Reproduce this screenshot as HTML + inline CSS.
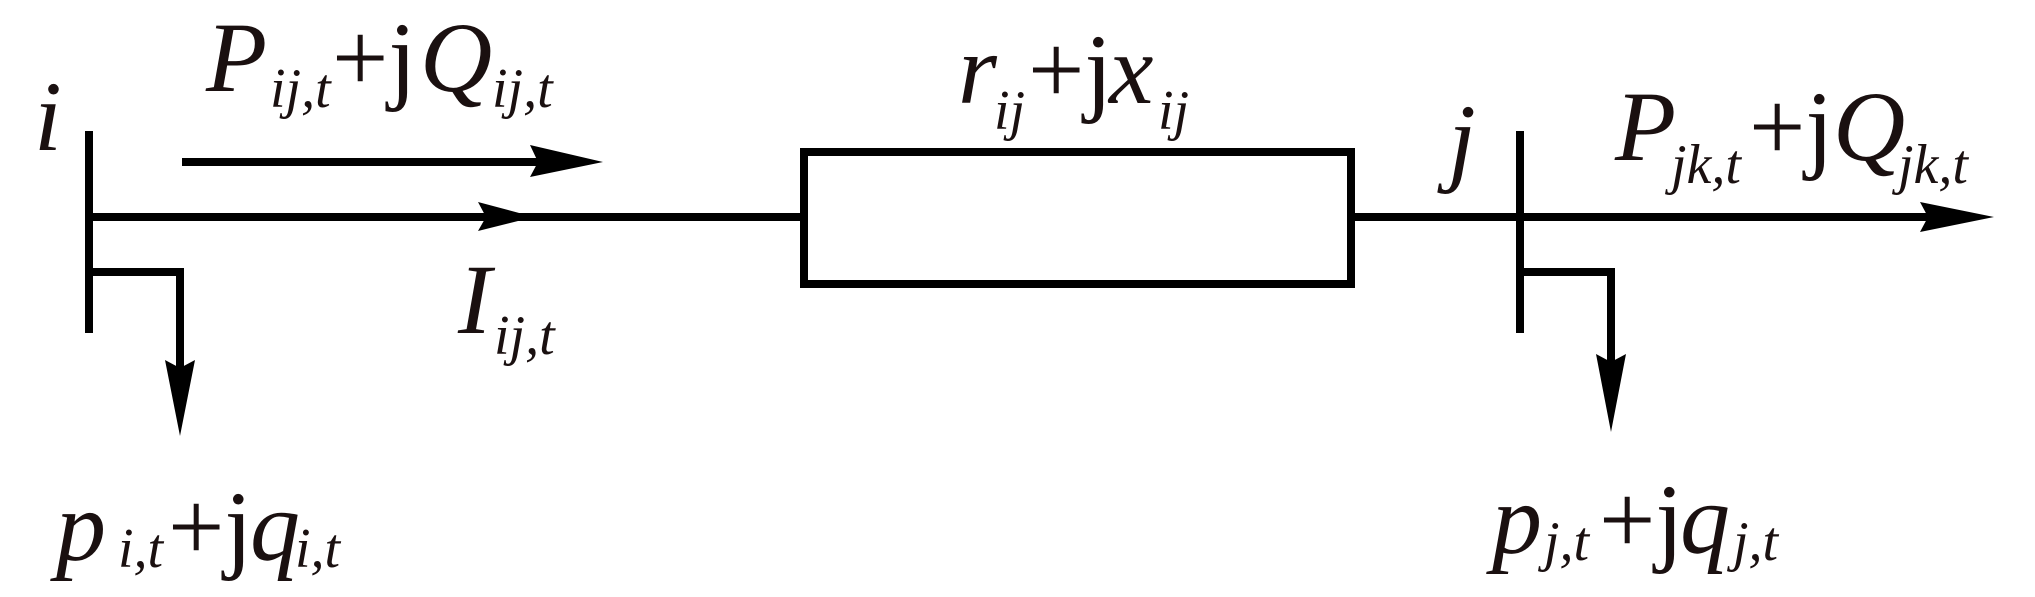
<!DOCTYPE html>
<html><head><meta charset="utf-8"><style>
html,body{margin:0;padding:0;background:#fff}
svg{display:block}
text{font-family:"Liberation Serif","Times New Roman",Times,serif;fill:#1a1010}
.i{font-style:italic}
.b{font-size:100px}
.s{font-size:56px}
</style></head><body>
<svg width="2035" height="597" viewBox="0 0 2035 597" xmlns="http://www.w3.org/2000/svg" font-family="Liberation Serif, serif">
<g stroke="#000" stroke-width="8" fill="none">
<line x1="89" y1="131" x2="89" y2="333"/>
<line x1="89" y1="217" x2="804" y2="217"/>
<rect x="804" y="152" width="547" height="132"/>
<line x1="1351" y1="217" x2="1930" y2="217"/>
<line x1="1520" y1="131" x2="1520" y2="333"/>
<line x1="182" y1="162" x2="540" y2="162"/>
<polyline points="89,272 180,272 180,370"/>
<polyline points="1520,272 1611,272 1611,365"/>
</g>
<g fill="#000">
<polygon points="478,202 534,217 478,231 486,217"/>
<polygon points="530,145 603,162 530,177 538,162"/>
<polygon points="1920,202 1994,217 1920,232 1928,217"/>
<polygon points="165,360 180,436 195,360 180,368"/>
<polygon points="1596,354 1611,432 1626,354 1611,362"/>
</g>
<text class="i b" x="34" y="150">i</text>
<text class="i b" x="206" y="91">P</text>
<text class="i s" x="270" y="107">ij,t</text>
<text class="b" x="332" y="91">+j</text>
<text class="i b" x="420" y="91">Q</text>
<text class="i s" x="492" y="107">ij,t</text>
<text class="i b" x="458" y="333">I</text>
<text class="i s" x="494" y="354">ij,t</text>
<text class="i b" x="56" y="560">p</text>
<text class="i s" x="118" y="567">i,t</text>
<text class="b" x="168" y="560">+j</text>
<text class="i b" x="250" y="560">q</text>
<text class="i s" x="295" y="567">i,t</text>
<text class="i b" x="958" y="103">r</text>
<text class="i s" x="994" y="129">ij</text>
<text class="b" x="1028" y="103">+j</text>
<text class="i b" x="1109" y="103">x</text>
<text class="i s" x="1158" y="129">ij</text>
<text class="i b" x="1448" y="173">j</text>
<text class="i b" x="1615" y="160">P</text>
<text class="i s" x="1671" y="183">jk,t</text>
<text class="b" x="1749" y="160">+j</text>
<text class="i b" x="1833" y="160">Q</text>
<text class="i s" x="1898" y="183">jk,t</text>
<text class="i b" x="1492" y="553">p</text>
<text class="i s" x="1544" y="560">j,t</text>
<text class="b" x="1599" y="553">+j</text>
<text class="i b" x="1680" y="553">q</text>
<text class="i s" x="1733" y="560">j,t</text>
</svg>
</body></html>
